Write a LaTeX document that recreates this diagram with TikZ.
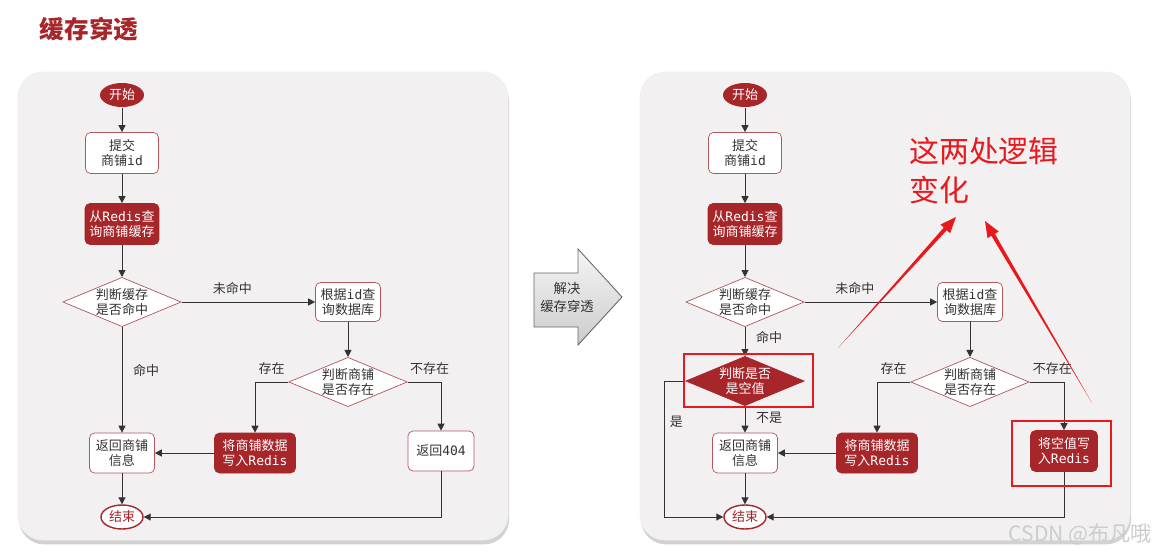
\documentclass[tikz,border=0pt]{standalone}
\usepackage{fontspec}
\setmainfont{Noto Sans CJK SC}
\newfontfamily\monofont{DejaVu Sans Mono}
\usetikzlibrary{shapes.geometric, arrows.meta, shadows, calc}
\definecolor{darkred}{RGB}{166, 38, 42}
\definecolor{boxline}{RGB}{178, 86, 92}
\definecolor{panelbg}{RGB}{242, 240, 241}
\definecolor{textdark}{RGB}{51, 51, 51}
\definecolor{hlred}{RGB}{232, 24, 28}
\newcommand{\tx}[1]{{\monofont #1}}
\newcommand{\boxfont}{\fontsize{7.4}{8.9}\selectfont}

\begin{document}
\begin{tikzpicture}[
    x=0.02cm, y=-0.02cm,
    panel/.style={fill=panelbg, draw=gray!12, rounded corners=0.5cm, drop shadow={shadow xshift=0.6pt, shadow yshift=-2.5pt, opacity=0.35}},
    terminal/.style={ellipse, minimum width=0.88cm, minimum height=0.48cm, inner sep=0pt, font=\boxfont, line width=0.8pt},
    proc/.style={rectangle, rounded corners=0.1cm, draw=boxline, fill=white, text=textdark, align=center, font=\boxfont, minimum height=0.8cm, inner sep=0pt, line width=0.4pt},
    procdark/.style={proc, fill=darkred, draw=darkred, text=white},
    decide/.style={diamond, shape aspect=2.4, draw=boxline, fill=white, text=textdark, align=center, font=\boxfont, inner sep=0pt, line width=0.4pt},
    lbl/.style={font=\boxfont, text=textdark, inner sep=1pt},
    flow/.style={-{Triangle[length=1.4mm, width=1.4mm]}, line width=0.55pt, draw=textdark},
    hl/.style={rectangle, draw=hlred, line width=1.6pt, inner sep=0pt},
    pointer/.style={fill=hlred},
]
\useasboundingbox[fill=white] (0,0) rectangle (1161,555);

% Title
\node[font=\fontsize{14}{16}\selectfont\bfseries, text=darkred] (title) at (89,29) {缓存穿透};

% Panels
\path[panel] (18,72) rectangle (508,540);
\path[panel] (640,72) rectangle (1130,540);

% Left flow
\node[terminal, fill=darkred, text=white] (start1) at (122,95) {开始};
\node[proc, minimum width=1.46cm, minimum height=0.82cm] (submit1) at (122,153) {提交\\商铺\tx{id}};
\node[procdark, minimum width=1.48cm, minimum height=0.82cm] (query1) at (122,224) {从\tx{Redis}查\\询商铺缓存};
\node[decide] (hit1) at (122,302) {判断缓存\\是否命中};
\node[proc, minimum width=1.3cm, minimum height=0.78cm] (db1) at (348,302) {根据\tx{id}查\\询数据库};
\node[decide] (exist1) at (348,382) {判断商铺\\是否存在};
\node[proc, minimum width=1.3cm] (ret1) at (122,453) {返回商铺\\信息};
\node[procdark, minimum width=1.62cm] (write1) at (255,453) {将商铺数据\\写入\tx{Redis}};
\node[proc, minimum width=1.32cm] (r404) at (441,451) {返回\tx{404}};
\node[terminal, draw=darkred, fill=white, text=darkred, minimum width=0.84cm] (end1) at (122,517) {结束};

\draw[flow] (start1) -- (submit1);
\draw[flow] (submit1) -- (query1);
\draw[flow] (query1) -- (hit1);
\draw[flow] (hit1.east) -- node[lbl, above=3pt, pos=0.38] {未命中} (db1.west);
\draw[flow] (hit1.south) -- node[lbl, right=5pt, pos=0.41] {命中} (ret1.north);
\draw[flow] (db1) -- (exist1);
\draw[flow] (exist1.west) -| node[lbl, above=3pt, pos=0.25] {存在} (write1.north);
\draw[flow] (exist1.east) -| node[lbl, above=3pt, pos=0.33] {不存在} (r404.north);
\draw[flow] (write1.west) -- (ret1.east);
\draw[flow] (ret1) -- (end1);
\draw[flow] (r404.south) |- (end1.east);

% Solve arrow
\draw[draw=gray!80!black, line width=0.5pt, top color=gray!8, bottom color=gray!40] (534,273) -- (578,273) -- (578,249) -- (622,297) -- (578,345) -- (578,327) -- (534,327) -- cycle;
\node[font=\fontsize{7.6}{10.2}\selectfont, text=textdark, align=center] (solve) at (567,297) {解决\\缓存穿透};

% Right flow
\node[terminal, fill=darkred, text=white] (start2) at (745,95) {开始};
\node[proc, minimum width=1.46cm, minimum height=0.82cm] (submit2) at (745,153) {提交\\商铺\tx{id}};
\node[procdark, minimum width=1.48cm, minimum height=0.82cm] (query2) at (745,224) {从\tx{Redis}查\\询商铺缓存};
\node[decide] (hit2) at (745,302) {判断缓存\\是否命中};
\node[proc, minimum width=1.3cm, minimum height=0.78cm] (db2) at (970,302) {根据\tx{id}查\\询数据库};
\node[decide, fill=darkred, draw=darkred, text=white] (null2) at (745,381) {判断是否\\是空值};
\node[decide] (exist2) at (970,382) {判断商铺\\是否存在};
\node[proc, minimum width=1.3cm] (ret2) at (745,453) {返回商铺\\信息};
\node[procdark, minimum width=1.62cm] (write2) at (877,453) {将商铺数据\\写入\tx{Redis}};
\node[procdark, minimum width=1.34cm, minimum height=0.82cm] (wnull2) at (1064,451) {将空值写\\入\tx{Redis}};
\node[terminal, draw=darkred, fill=white, text=darkred, minimum width=0.84cm] (end2) at (745,517) {结束};
\coordinate (yesbend) at (664,381);

\draw[flow] (start2) -- (submit2);
\draw[flow] (submit2) -- (query2);
\draw[flow] (query2) -- (hit2);
\draw[flow] (hit2.east) -- node[lbl, above=3pt, pos=0.38] {未命中} (db2.west);
\draw[flow] (hit2.south) -- node[lbl, right=5pt, pos=0.35] {命中} (null2.north);
\draw[flow] (null2.south) -- node[lbl, right=5pt, pos=0.45] {不是} (ret2.north);
\draw[flow] (null2.west) -- (yesbend) |- node[lbl, right=2pt, pos=0.15] {是} (end2.west);
\draw[flow] (db2) -- (exist2);
\draw[flow] (exist2.west) -| node[lbl, above=3pt, pos=0.25] {存在} (write2.north);
\draw[flow] (exist2.east) -| node[lbl, above=3pt, pos=0.33] {不存在} (wnull2.north);
\draw[flow] (write2.west) -- (ret2.east);
\draw[flow] (ret2) -- (end2);
\draw[flow] (wnull2.south) |- (end2.east);

% Highlights
\node[hl, minimum width=2.58cm, minimum height=1.06cm] (hlnull) at (748.5,380.5) {};
\node[hl, minimum width=1.98cm, minimum height=1.3cm] (hlwrite) at (1061.5,453.5) {};

% Note
\node[font=\fontsize{17}{22.2}\selectfont, text=hlred, align=left, anchor=north west, inner sep=0pt] (note) at (909,137) {这两处逻辑\\变化};
\coordinate (tail1) at (838,348);
\coordinate (tip1) at (956,217);
\coordinate (tail2) at (1092,403);
\coordinate (tip2) at (985,221);
\foreach \t/\h in {tail1/tip1, tail2/tip2} {
  \coordinate (neck) at ($(\h)!0.32cm!(\t)$);
  \fill[pointer] (\t) -- ($(neck)!0.04cm!90:(\h)$) -- ($(neck)!0.13cm!90:(\h)$) -- (\h) -- ($(neck)!0.13cm!-90:(\h)$) -- ($(neck)!0.04cm!-90:(\h)$) -- cycle;
}

% Watermark
\node[font=\fontsize{12}{14}\selectfont, text=gray!40, anchor=east] (mark) at (1158,534) {CSDN @布凡哦};

\end{tikzpicture}
\end{document}
